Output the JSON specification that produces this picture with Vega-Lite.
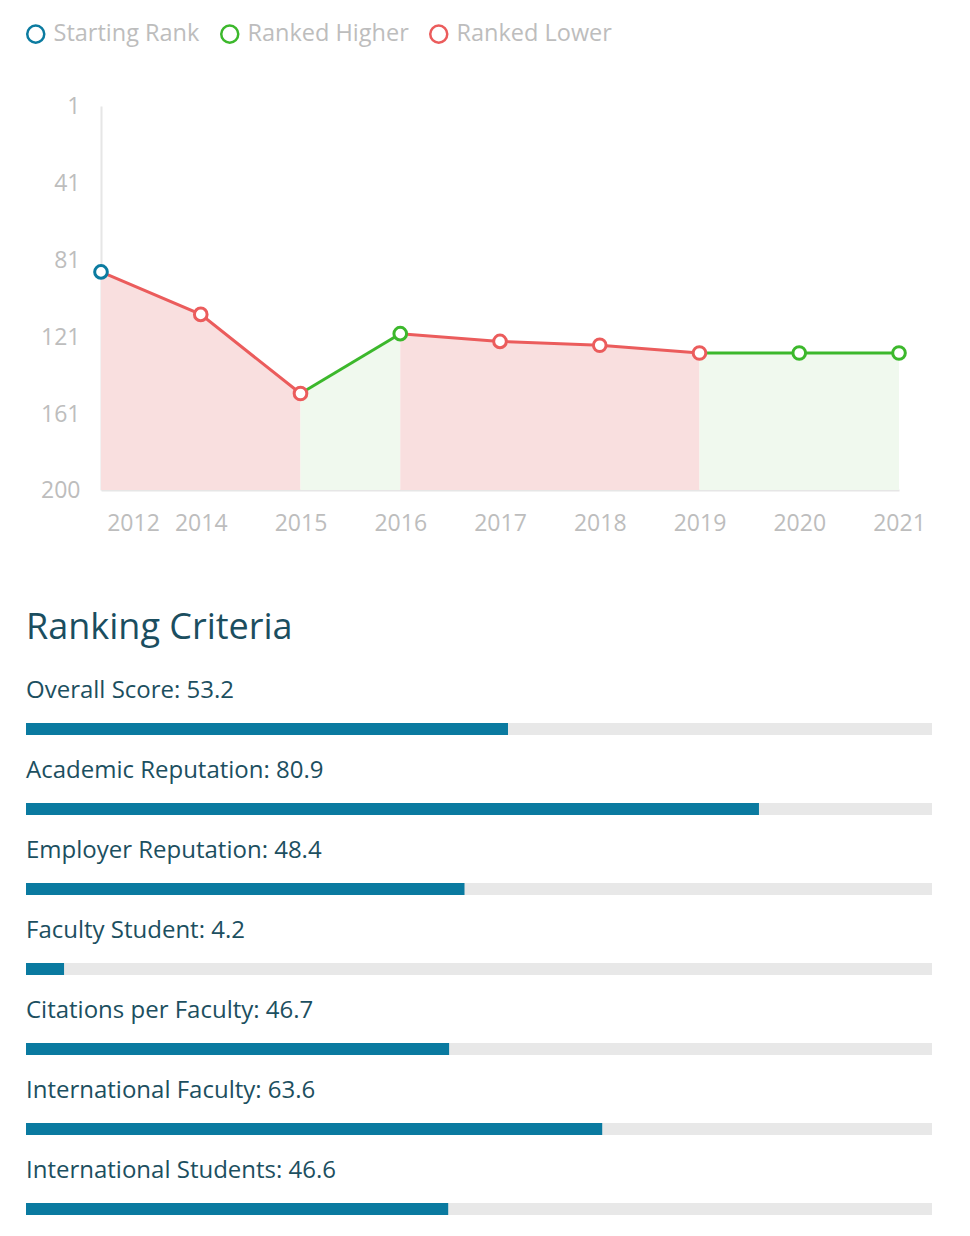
{
  "$schema": "https://vega.github.io/schema/vega-lite/v6.json",
  "padding": {"left": 24, "top": 22, "right": 0, "bottom": 0},
  "background": "white",
  "config": {"view": {"stroke": null}, "font": "Open Sans"},
  "spacing": 75,
  "datasets": {
    "segs": [
      {"seg": 1, "year": "2012", "rank": 87, "status": "Ranked Lower"},
      {"seg": 1, "year": "2014", "rank": 109, "status": "Ranked Lower"},
      {"seg": 1, "year": "2015", "rank": 150, "status": "Ranked Lower"},
      {"seg": 2, "year": "2015", "rank": 150, "status": "Ranked Higher"},
      {"seg": 2, "year": "2016", "rank": 119, "status": "Ranked Higher"},
      {"seg": 3, "year": "2016", "rank": 119, "status": "Ranked Lower"},
      {"seg": 3, "year": "2017", "rank": 123, "status": "Ranked Lower"},
      {"seg": 3, "year": "2018", "rank": 125, "status": "Ranked Lower"},
      {"seg": 3, "year": "2019", "rank": 129, "status": "Ranked Lower"},
      {"seg": 4, "year": "2019", "rank": 129, "status": "Ranked Higher"},
      {"seg": 4, "year": "2020", "rank": 129, "status": "Ranked Higher"},
      {"seg": 4, "year": "2021", "rank": 129, "status": "Ranked Higher"}
    ],
    "points": [
      {"year": "2012", "rank": 87, "status": "Starting Rank"},
      {"year": "2014", "rank": 109, "status": "Ranked Lower"},
      {"year": "2015", "rank": 150, "status": "Ranked Lower"},
      {"year": "2016", "rank": 119, "status": "Ranked Higher"},
      {"year": "2017", "rank": 123, "status": "Ranked Lower"},
      {"year": "2018", "rank": 125, "status": "Ranked Lower"},
      {"year": "2019", "rank": 129, "status": "Ranked Lower"},
      {"year": "2020", "rank": 129, "status": "Ranked Higher"},
      {"year": "2021", "rank": 129, "status": "Ranked Higher"}
    ],
    "criteria": [
      {"criterion": "Overall Score", "score": 53.2, "label": "Overall Score: 53.2"},
      {"criterion": "Academic Reputation", "score": 80.9, "label": "Academic Reputation: 80.9"},
      {"criterion": "Employer Reputation", "score": 48.4, "label": "Employer Reputation: 48.4"},
      {"criterion": "Faculty Student", "score": 4.2, "label": "Faculty Student: 4.2"},
      {"criterion": "Citations per Faculty", "score": 46.7, "label": "Citations per Faculty: 46.7"},
      {"criterion": "International Faculty", "score": 63.6, "label": "International Faculty: 63.6"},
      {"criterion": "International Students", "score": 46.6, "label": "International Students: 46.6"}
    ]
  },
  "vconcat": [
    {
      "width": 798,
      "height": 384,
      "encoding": {
        "x": {
          "field": "year", "type": "ordinal",
          "scale": {"type": "point", "padding": 0, "domain": ["2012","2014","2015","2016","2017","2018","2019","2020","2021"]},
          "axis": {
            "title": null, "labelAngle": 0, "ticks": false, "labelPadding": 22,
            "labelFontSize": 23, "labelColor": "#bdbdbd", "labelFont": "Open Sans",
            "domainColor": "#e6e6e6", "domainWidth": 2,
            "labelOffset": {"condition": {"test": "datum.value == '2012'", "value": 32}, "value": 0}
          }
        },
        "y": {
          "field": "rank", "type": "quantitative",
          "scale": {"domain": [1, 200], "reverse": true, "nice": false, "zero": false},
          "axis": {
            "title": null, "values": [1, 41, 81, 121, 161, 200], "grid": false, "ticks": false,
            "labelPadding": 21, "labelFontSize": 23, "labelColor": "#bdbdbd", "labelFont": "Open Sans",
            "domainColor": "#e6e6e6", "domainWidth": 2
          }
        }
      },
      "layer": [
        {
          "data": {"name": "segs"},
          "mark": {"type": "area", "opacity": 1},
          "encoding": {
            "y2": {"datum": 200},
            "fill": {"field": "status", "type": "nominal", "legend": null,
              "scale": {"domain": ["Ranked Higher", "Ranked Lower"], "range": ["#f0f9ee", "#f9dfdf"]}},
            "detail": {"field": "seg"}
          }
        },
        {
          "data": {"name": "segs"},
          "mark": {"type": "line", "strokeWidth": 3},
          "encoding": {
            "stroke": {"field": "status", "type": "nominal"},
            "detail": {"field": "seg"}
          }
        },
        {
          "data": {"name": "points"},
          "mark": {"type": "point", "shape": "circle", "filled": true, "fill": "white", "size": 160, "strokeWidth": 3, "opacity": 1},
          "encoding": {
            "stroke": {
              "field": "status", "type": "nominal",
              "scale": {"domain": ["Starting Rank", "Ranked Higher", "Ranked Lower"], "range": ["#0b7ba0", "#3cb82c", "#eb5c5c"]},
              "legend": {
                "title": null, "orient": "none", "direction": "horizontal",
                "legendX": -77, "legendY": -84,
                "symbolType": "circle", "symbolSize": 290, "symbolStrokeWidth": 2.5, "symbolFillColor": "white",
                "labelFontSize": 23.5, "labelColor": "#bdbdbd", "labelFont": "Open Sans", "labelLimit": 400,
                "labelOffset": 6, "columnPadding": 16
              }
            }
          }
        }
      ]
    },
    {
      "data": {"name": "criteria"},
      "width": 831,
      "height": 560,
      "title": {"text": "Ranking Criteria", "anchor": "start", "fontSize": 36, "fontWeight": "normal", "color": "#1b4e5f", "font": "Open Sans", "offset": 14},
      "encoding": {
        "y": {"field": "criterion", "type": "nominal", "sort": null, "scale": {"paddingInner": 0, "paddingOuter": 0}, "axis": null}
      },
      "layer": [
        {
          "mark": {"type": "bar", "height": 12, "yOffset": 28, "color": "#e8e8e8"},
          "encoding": {"x": {"datum": 100, "type": "quantitative", "scale": {"domain": [0, 100], "range": [-75, 831]}, "axis": null}}
        },
        {
          "mark": {"type": "bar", "height": 12, "yOffset": 28, "color": "#0a7aa0"},
          "encoding": {"x": {"field": "score", "type": "quantitative"}}
        },
        {
          "mark": {"type": "text", "align": "left", "baseline": "middle", "dy": -10, "fontSize": 24, "color": "#1c4f60", "font": "Open Sans"},
          "encoding": {"x": {"datum": 0, "type": "quantitative"}, "text": {"field": "label"}}
        }
      ]
    }
  ]
}
